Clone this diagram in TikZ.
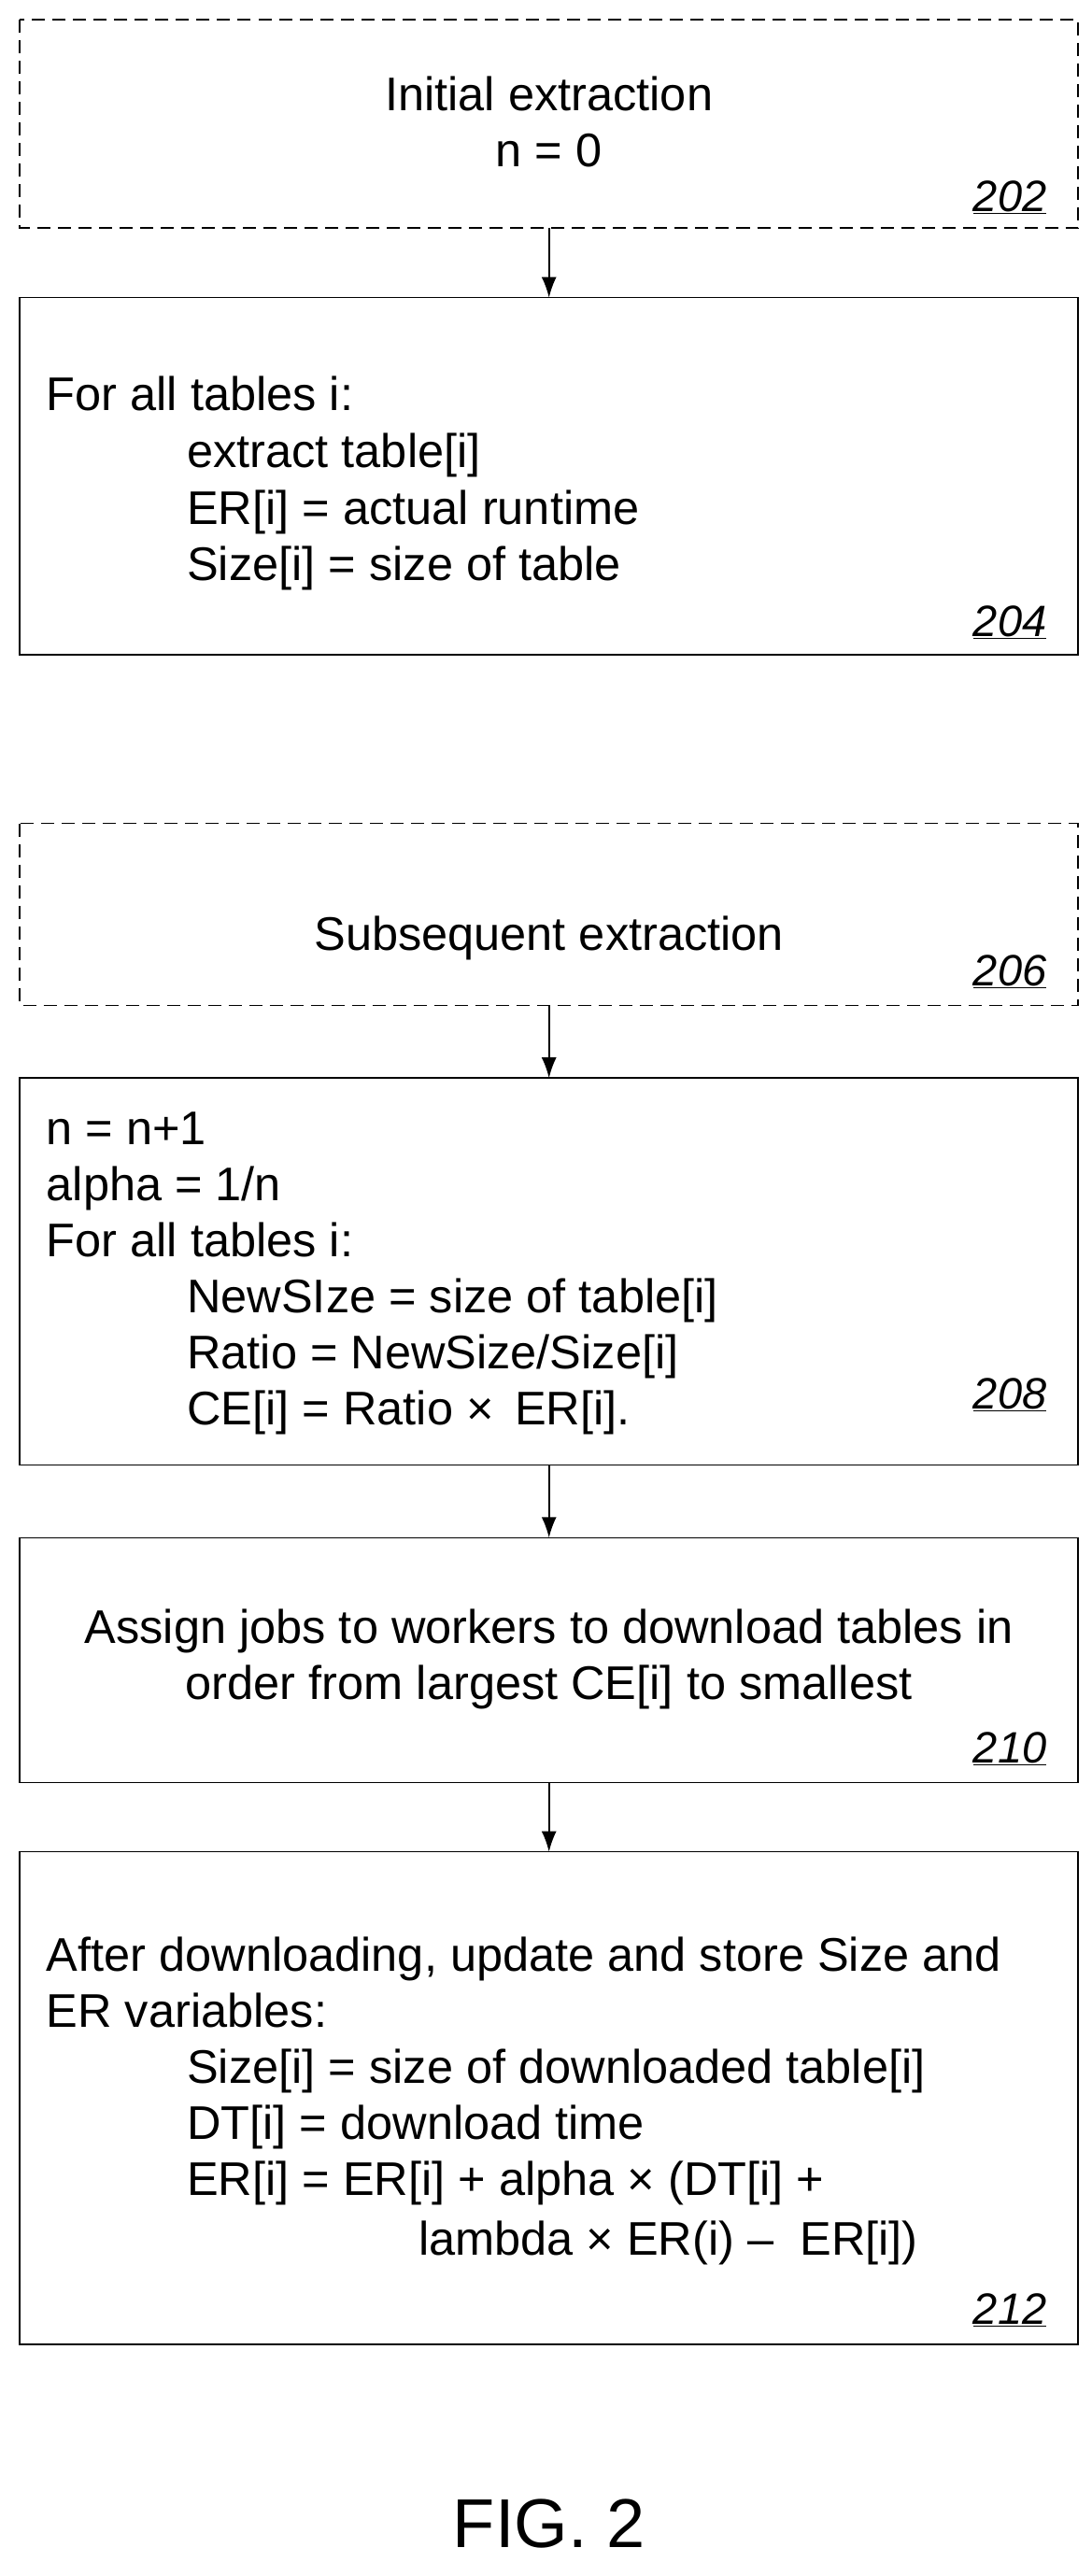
\documentclass[tikz,border=0pt]{standalone}
\usepackage{fontspec}
\setmainfont{Liberation Sans}
\usetikzlibrary{arrows.meta}
\begin{document}
\begin{tikzpicture}[x=1.7697pt,y=-1.7697pt,
  box/.style={draw,line width=1.6pt},
  dbox/.style={draw,line width=1.6pt,dash pattern=on 14pt off 8pt},
  txt/.style={anchor=base west,inner sep=0pt,font=\fontsize{50.5}{60}\selectfont},
  ctxt/.style={anchor=base,inner sep=0pt,font=\fontsize{50.5}{60}\selectfont},
  lbl/.style={anchor=base east,inner sep=0pt,font=\fontsize{47}{55}\selectfont\itshape},
  arr/.style={line width=1.6pt,-{Latex[length=22pt,width=16pt]}}]
\useasboundingbox (0,0) rectangle (660,1558);
\draw[dbox] (12,12) rectangle (652,138);
\coordinate (b1t) at (332,12); \coordinate (b1b) at (332,138);
\node[ctxt] (t1a) at (332,67) {Initial extraction};
\node[ctxt] (t1b) at (332,101) {n = 0};
\node[lbl] (l1) at (633,128) {\underline{202}};
\draw[box] (12,180) rectangle (652,396);
\coordinate (b2t) at (332,180);
\node[txt] (t2a) at (28,248) {For all tables i:};
\node[txt] (t2b) at (113,283) {extract table[i]};
\node[txt] (t2c) at (113,317) {ER[i] = actual runtime};
\node[txt] (t2d) at (113,351) {Size[i] = size of table};
\node[lbl] (l2) at (633,385) {\underline{204}};
\draw[dbox] (12,498) rectangle (652,608);
\coordinate (b3b) at (332,608);
\node[ctxt] (t3) at (332,575) {Subsequent extraction};
\node[lbl] (l3) at (633,596) {\underline{206}};
\draw[box] (12,652) rectangle (652,886);
\coordinate (b4t) at (332,652); \coordinate (b4b) at (332,886);
\node[txt] (t4a) at (28,692) {n = n+1};
\node[txt] (t4b) at (28,726) {alpha = 1/n};
\node[txt] (t4c) at (28,760) {For all tables i:};
\node[txt] (t4d) at (113,794) {NewSIze = size of table[i]};
\node[txt] (t4e) at (113,828) {Ratio = NewSize/Size[i]};
\node[txt] (t4f) at (113,862) {CE[i] = Ratio ×\, ER[i].};
\node[lbl] (l4) at (633,852) {\underline{208}};
\draw[box] (12,930) rectangle (652,1078);
\coordinate (b5t) at (332,930); \coordinate (b5b) at (332,1078);
\node[ctxt] (t5a) at (332,994) {Assign jobs to workers to download tables in};
\node[ctxt] (t5b) at (332,1028) {order from largest CE[i] to smallest};
\node[lbl] (l5) at (633,1066) {\underline{210}};
\draw[box] (12,1120) rectangle (652,1418);
\coordinate (b6t) at (332,1120);
\node[txt] (t6a) at (28,1192) {After downloading, update and store Size and};
\node[txt] (t6b) at (28,1226) {ER variables:};
\node[txt] (t6c) at (113,1260) {Size[i] = size of downloaded table[i]};
\node[txt] (t6d) at (113,1294) {DT[i] = download time};
\node[txt] (t6e) at (113,1328) {ER[i] = ER[i] + alpha ×\ (DT[i] +};
\node[txt] (t6f) at (253,1364) {lambda ×\ ER(i) –\ \ ER[i])};
\node[lbl] (l6) at (633,1406) {\underline{212}};
\node[ctxt,font=\fontsize{74}{80}\selectfont] (fig) at (332,1541) {FIG. 2};
\draw[arr] (b1b) -- (b2t);
\draw[arr] (b3b) -- (b4t);
\draw[arr] (b4b) -- (b5t);
\draw[arr] (b5b) -- (b6t);
\end{tikzpicture}
\end{document}
